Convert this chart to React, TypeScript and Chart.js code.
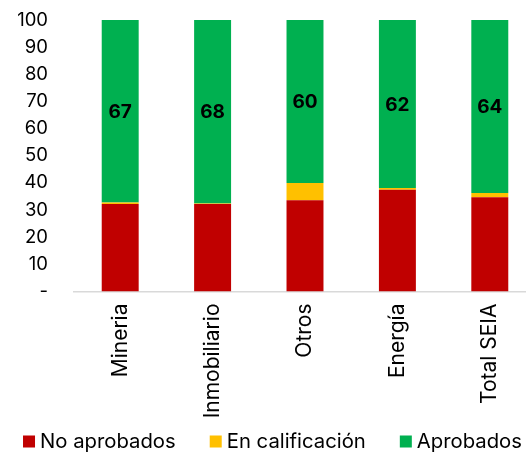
import { useEffect, useRef } from "react";
import { Chart, registerables } from "chart.js";

Chart.register(...registerables);

const categories = ["Mineria", "Inmobiliario", "Otros", "Energía", "Total SEIA"];
const noAprobados = [32.2, 32.2, 33.6, 37.5, 34.7];
const enCalificacion = [0.6, 0.2, 6.4, 0.6, 1.6];
const aprobados = [67.2, 67.6, 60.0, 61.9, 63.7];
const seriesNames = ["No aprobados", "En calificación", "Aprobados"];
const seriesColors = ["#C00000", "#FFC000", "#00B050"];

const FONT = "Inter, 'Liberation Sans', Arial, sans-serif";

const greenLabels = {
  id: "greenLabels",
  afterDatasetsDraw(chart: any) {
    const meta = chart.getDatasetMeta(2);
    const ctx = chart.ctx;
    ctx.save();
    ctx.font = `bold 19px ${FONT}`;
    ctx.fillStyle = "#000";
    ctx.textAlign = "center";
    ctx.textBaseline = "middle";
    meta.data.forEach((el: any, i: number) => {
      const { x, y, base } = el.getProps(["x", "y", "base"], true);
      ctx.fillText(String(Math.round(aprobados[i])), x, (y + base) / 2 + 1);
    });
    ctx.restore();
  },
};

// Legend drawn in the bottom band reserved by layout padding
const bottomLegend = {
  id: "bottomLegend",
  afterDraw(chart: any) {
    const ctx = chart.ctx;
    const box = 12;
    const gap = 5;
    const itemGap = 34;
    const cy = 441.5;
    ctx.save();
    ctx.font = `20.3px ${FONT}`;
    ctx.textBaseline = "middle";
    ctx.textAlign = "left";
    const items = chart.data.datasets.map((d: any) => ({
      text: d.label,
      color: d.backgroundColor,
      w: ctx.measureText(d.label).width,
    }));
    const total =
      items.reduce((s: number, it: any) => s + box + gap + it.w, 0) + itemGap * (items.length - 1);
    let x = 272.5 - total / 2;
    items.forEach((it: any) => {
      ctx.fillStyle = it.color;
      ctx.fillRect(x, cy - box / 2, box, box);
      ctx.fillStyle = "#000";
      ctx.fillText(it.text, x + box + gap, cy);
      x += box + gap + it.w + itemGap;
    });
    ctx.restore();
  },
};

export default function App() {
  const ref = useRef<HTMLCanvasElement>(null);
  useEffect(() => {
    if (!ref.current) return;
    Chart.defaults.font.family = FONT;
    Chart.defaults.color = "#000";
    const chart = new Chart(ref.current, {
      type: "bar",
      data: {
        labels: categories,
        datasets: [noAprobados, enCalificacion, aprobados].map((d, i) => ({
          label: seriesNames[i],
          data: d,
          backgroundColor: seriesColors[i],
          borderWidth: 0,
          categoryPercentage: 1,
          barPercentage: 0.4,
        })),
      },
      options: {
        responsive: false,
        animation: false,
        layout: { padding: { top: 20, right: 4, left: 0, bottom: 25 } },
        plugins: {
          legend: { display: false },
          tooltip: { enabled: false },
        },
        scales: {
          x: {
            stacked: true,
            grid: { display: false, drawTicks: false },
            border: { display: true, color: "#D9D9D9", width: 1.5 },
            ticks: {
              maxRotation: 90,
              minRotation: 90,
              padding: 12,
              color: "#000",
              font: { size: 21, family: FONT },
            },
            afterFit: (s: any) => {
              s.height = 135.5;
            },
          },
          y: {
            stacked: true,
            min: 0,
            max: 100,
            grid: { display: false, drawTicks: false },
            border: { display: false },
            ticks: {
              stepSize: 10,
              autoSkip: false,
              padding: 26,
              color: "#000",
              font: { size: 18.5, family: FONT },
              callback: (v: any) => (Number(v) === 0 ? "-" : String(v)),
            },
            afterFit: (s: any) => {
              s.width = 74;
              s.paddingTop = 10;
              s.paddingBottom = 10;
            },
          },
        },
      },
      plugins: [greenLabels, bottomLegend],
    });
    return () => chart.destroy();
  }, []);
  return (
    <div style={{ position: "fixed", left: 0, top: 0, width: 540, height: 452, overflow: "hidden" }}>
      <canvas ref={ref} width={540} height={452} style={{ width: 540, height: 452, display: "block" }} />
    </div>
  );
}
